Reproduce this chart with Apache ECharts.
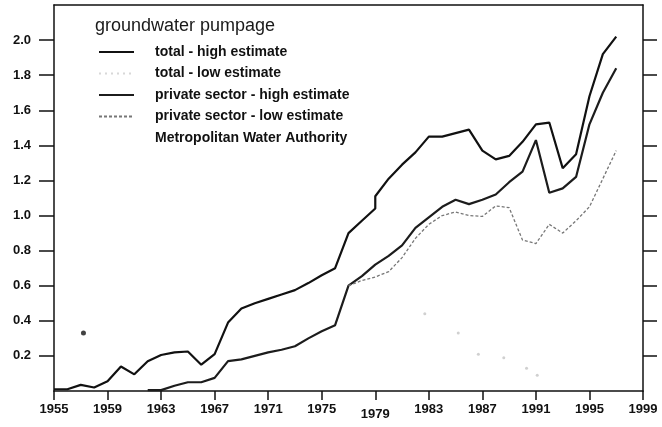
<!DOCTYPE html>
<html>
<head>
<meta charset="utf-8">
<script src="https://cdn.jsdelivr.net/npm/echarts@6/dist/echarts.min.js"></script>
<style>
  html, body { margin: 0; padding: 0; background: #fff; }
  #chartBox { width: 662px; height: 427px; }
</style>
</head>
<body>
<div id="chartBox"></div>
<script>
// values (million m3 / day ?)
var totalHighYears = [1955, 1956, 1957, 1958, 1959, 1960, 1961, 1962, 1963, 1964, 1965, 1966, 1967, 1968, 1969, 1970,
    1971, 1972, 1973, 1974, 1975, 1976, 1977, 1978, 1979, 1979, 1980, 1981, 1982, 1983, 1984, 1985, 1986,
    1987, 1988, 1989, 1990, 1991, 1992, 1993, 1994, 1995, 1996, 1997];
var totalHigh = [0.01, 0.01, 0.035, 0.02, 0.055, 0.14, 0.095, 0.17, 0.205, 0.22, 0.225, 0.15, 0.21, 0.39, 0.47, 0.50,
    0.525, 0.55, 0.575, 0.615, 0.66, 0.70, 0.90, 0.97, 1.04, 1.11, 1.21, 1.29, 1.36, 1.45, 1.45, 1.47, 1.49,
    1.37, 1.32, 1.34, 1.42, 1.52, 1.53, 1.27, 1.35, 1.68, 1.92, 2.02];

var privateHighYears = [1962, 1963, 1964, 1965, 1966, 1967, 1968, 1969, 1970, 1971, 1972, 1973, 1974, 1975, 1976,
    1977, 1978, 1979, 1980, 1981, 1982, 1983, 1984, 1985, 1986, 1987, 1988, 1989, 1990, 1991, 1992, 1993,
    1994, 1995, 1996, 1997];
var privateHigh = [0.005, 0.005, 0.03, 0.05, 0.05, 0.075, 0.17, 0.18, 0.20, 0.22, 0.235, 0.255, 0.30, 0.34, 0.375,
    0.60, 0.655, 0.72, 0.77, 0.83, 0.93, 0.99, 1.05, 1.09, 1.065, 1.09, 1.12, 1.19, 1.25, 1.43, 1.13, 1.155,
    1.22, 1.52, 1.70, 1.84];

var privateLowYears = [1977, 1978, 1979, 1980, 1981, 1982, 1983, 1984, 1985, 1986, 1987, 1988, 1989, 1990, 1991,
    1992, 1993, 1994, 1995, 1996, 1997];
var privateLow = [0.60, 0.63, 0.65, 0.68, 0.76, 0.87, 0.95, 1.00, 1.02, 1.00, 0.995, 1.055, 1.045, 0.86, 0.84,
    0.95, 0.90, 0.97, 1.05, 1.21, 1.37];

// total low estimate is not legible in the scan, only its legend entry is
var totalLowYears = [];
var totalLow = [];

// faint points of the Metropolitan Water Authority series
var mwaYears = [1957.2, 1982.7, 1985.2, 1986.7, 1988.6, 1990.3, 1991.1];
var mwaValues = [0.33, 0.44, 0.33, 0.21, 0.19, 0.13, 0.09];

var xTicks = [1955, 1959, 1963, 1967, 1971, 1975, 1979, 1983, 1987, 1991, 1995, 1999];
var yTicks = [0.2, 0.4, 0.6, 0.8, 1.0, 1.2, 1.4, 1.6, 1.8, 2.0];

var seriesNames = ['total - high estimate', 'total - low estimate', 'private sector - high estimate',
    'private sector - low estimate', 'Metropolitan Water Authority'];

function pairs(xs, ys) {
    var out = [];
    for (var i = 0; i < xs.length; i++) out.push([xs[i], ys[i]]);
    return out;
}

var font = "'Liberation Sans', Arial, sans-serif";
var ink = '#111';

function setOptionChart() {
    var mwaData = pairs(mwaYears, mwaValues).map(function (p, i) {
        return i === 0
            ? { value: p, symbolSize: 5, itemStyle: { color: ink } }
            : { value: p };
    });
    var option = {
        backgroundColor: '#fff',
        animation: false,
        title: {
            text: 'groundwater pumpage',
            left: 95,
            top: 17,
            padding: 0,
            textStyle: { fontFamily: font, fontSize: 18, fontWeight: 'normal', color: '#1a1a1a' }
        },
        legend: {
            orient: 'vertical',
            left: 98,
            top: 45,
            padding: 0,
            itemWidth: 35,
            itemHeight: 14,
            itemGap: 7.5,
            selectedMode: false,
            itemStyle: { opacity: 0 },
            textStyle: { fontFamily: font, fontSize: 14, fontWeight: 'bold', color: ink, padding: [0, 0, 0, 16] },
            data: seriesNames
        },
        grid: { left: 54, right: 19, top: 5, bottom: 36 },
        xAxis: [
            {
                type: 'value',
                min: 1955,
                max: 1999,
                interval: 4,
                splitLine: { show: false },
                axisLine: { lineStyle: { color: ink, width: 1.5 } },
                axisTick: { inside: false, length: 9, lineStyle: { color: ink, width: 1.5 }, customValues: xTicks },
                axisLabel: {
                    customValues: xTicks,
                    margin: 12,
                    fontFamily: font,
                    fontSize: 13,
                    fontWeight: 'bold',
                    color: ink,
                    formatter: function (v) {
                        return v === 1979 ? '{low|' + v + '}' : String(v);
                    },
                    rich: {
                        low: { fontFamily: font, fontSize: 13, fontWeight: 'bold', color: ink, padding: [5, 0, 0, 0] }
                    }
                }
            },
            {
                type: 'value',
                position: 'top',
                min: 1955,
                max: 1999,
                splitLine: { show: false },
                axisLine: { onZero: false, lineStyle: { color: ink, width: 1.5 } },
                axisTick: { show: false },
                axisLabel: { show: false }
            }
        ],
        yAxis: [
            {
                type: 'value',
                min: 0,
                max: 2.2,
                interval: 0.2,
                splitLine: { show: false },
                axisLine: { show: true, onZero: false, lineStyle: { color: ink, width: 1.5 } },
                axisTick: { show: true, length: 15, lineStyle: { color: ink, width: 1.5 }, customValues: yTicks },
                axisLabel: {
                    customValues: yTicks,
                    margin: 23,
                    fontFamily: font,
                    fontSize: 13,
                    fontWeight: 'bold',
                    color: ink,
                    formatter: function (v) { return v.toFixed(1); }
                }
            },
            {
                type: 'value',
                position: 'right',
                min: 0,
                max: 2.2,
                interval: 0.2,
                splitLine: { show: false },
                axisLine: { show: true, onZero: false, lineStyle: { color: ink, width: 1.5 } },
                axisTick: { show: true, length: 14, lineStyle: { color: ink, width: 1.5 }, customValues: yTicks },
                axisLabel: { show: false }
            }
        ],
        series: [
            {
                name: seriesNames[0],
                type: 'line',
                symbol: 'none',
                data: pairs(totalHighYears, totalHigh),
                lineStyle: { color: ink, width: 2.2 },
                itemStyle: { color: ink }
            },
            {
                name: seriesNames[1],
                type: 'line',
                symbol: 'none',
                data: pairs(totalLowYears, totalLow),
                lineStyle: { color: '#d8d8d8', width: 1.5, type: [2, 4] },
                itemStyle: { color: '#d8d8d8' }
            },
            {
                name: seriesNames[2],
                type: 'line',
                symbol: 'none',
                data: pairs(privateHighYears, privateHigh),
                lineStyle: { color: '#1c1c1c', width: 2.2 },
                itemStyle: { color: '#1c1c1c' }
            },
            {
                name: seriesNames[3],
                type: 'line',
                symbol: 'none',
                data: pairs(privateLowYears, privateLow),
                lineStyle: { color: '#777', width: 1.3, type: [3, 2] },
                itemStyle: { color: '#777' }
            },
            {
                name: seriesNames[4],
                type: 'scatter',
                symbolSize: 3,
                data: mwaData,
                itemStyle: { color: '#c4c4c4' }
            }
        ]
    };
    return option;
}

var chart = echarts.init(document.getElementById('chartBox'));
chart.setOption(setOptionChart());
</script>
</body>
</html>
